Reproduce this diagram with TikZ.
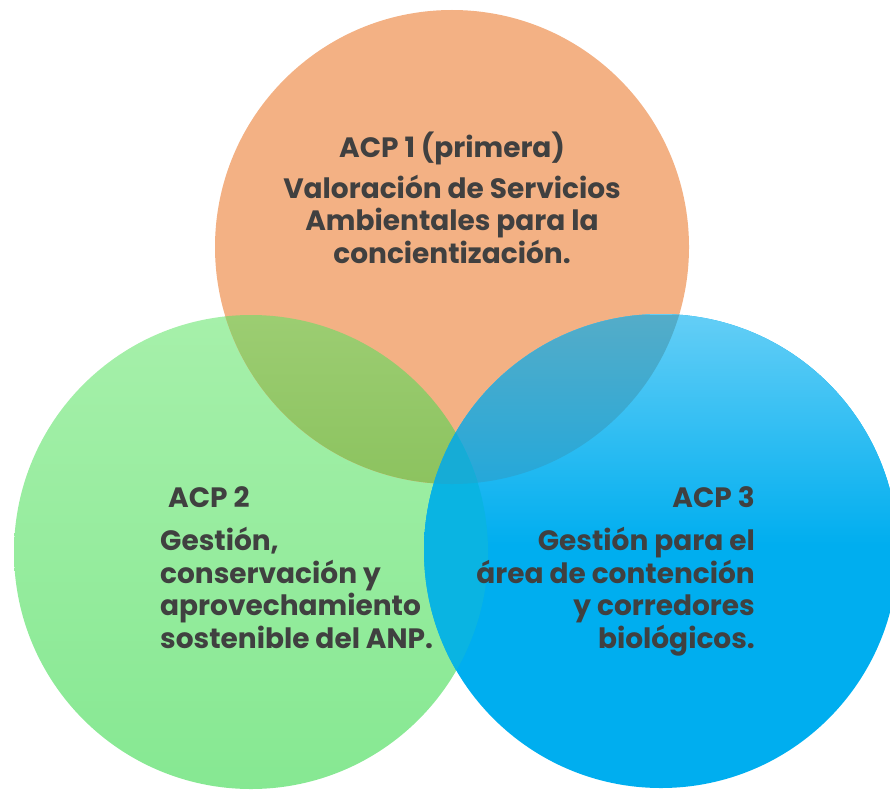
\documentclass[tikz,border=0pt]{standalone}
\usepackage{fontspec}
\setmainfont{Poppins}
\definecolor{acptext}{RGB}{64,64,64}
\definecolor{acporange}{RGB}{243,177,132}
\definecolor{greentop}{RGB}{166,240,170}
\definecolor{greenbot}{RGB}{134,232,146}
\definecolor{bluetop}{RGB}{100,206,246}
\definecolor{bluebot}{RGB}{0,174,239}
\definecolor{olivetop}{RGB}{156,205,114}
\definecolor{olivebot}{RGB}{140,195,95}
\definecolor{tealtop}{RGB}{84,172,200}
\definecolor{tealbot}{RGB}{36,168,218}
\definecolor{cyanmix}{RGB}{10,180,226}
\definecolor{triplemix}{RGB}{22,172,214}
\tikzset{
  acptitle/.style={font=\fontsize{28}{32}\selectfont\bfseries, text=acptext, inner sep=0pt},
  acpbody/.style={font=\fontsize{28}{32.5}\selectfont\bfseries, text=acptext, inner sep=0pt}
}
\begin{document}
\begin{tikzpicture}[x=1pt,y=-1pt]
  \useasboundingbox (0,0) rectangle (890,789);
  \clip (0,0) rectangle (890,789);
  \def\rad{237pt}
  \coordinate (c1) at (452,247);
  \coordinate (c2) at (251,552);
  \coordinate (c3) at (661,551);
  % circles
  \shade[top color=greentop, bottom color=greenbot] (c2) circle[radius=\rad];
  \fill[acporange] (c1) circle[radius=\rad];
  \begin{scope}
    \clip (c3) circle[radius=\rad];
    \fill[bluebot] (400,314) rectangle (900,789);
    \shade[top color=bluetop, bottom color=bluebot] (400,314) rectangle (900,545);
  \end{scope}
  % overlaps
  \begin{scope}
    \clip (c1) circle[radius=\rad];
    \clip (c2) circle[radius=\rad];
    \shade[top color=olivetop, bottom color=olivebot] (0,315) rectangle (500,485);
  \end{scope}
  \begin{scope}
    \clip (c1) circle[radius=\rad];
    \clip (c3) circle[radius=\rad];
    \shade[top color=tealtop, bottom color=tealbot] (400,315) rectangle (890,485);
  \end{scope}
  \begin{scope}
    \clip (c2) circle[radius=\rad];
    \clip (c3) circle[radius=\rad];
    \fill[cyanmix] (400,315) rectangle (500,789);
    \clip (c1) circle[radius=\rad];
    \fill[triplemix] (400,315) rectangle (500,789);
  \end{scope}
  % texts (base = last line)
  \node[acptitle, anchor=base] (acp1) at (452,157) {ACP 1 (primera)};
  \node[acpbody, align=center, anchor=base] (acp1body) at (452,263)
    {Valoración de Servicios\\Ambientales para la\\concientización.};
  \node[acptitle, anchor=base west] (acp2) at (168,507) {ACP 2};
  \node[acpbody, align=left, anchor=base west] (acp2body) at (160,648)
    {Gestión,\\conservación y\\aprovechamiento\\sostenible del ANP.};
  \node[acptitle, anchor=base east] (acp3) at (755,507) {ACP 3};
  \node[acpbody, align=right, anchor=base east] (acp3body) at (755,648)
    {Gestión para el\\área de contención\\y corredores\\biológicos.};
\end{tikzpicture}
\end{document}
